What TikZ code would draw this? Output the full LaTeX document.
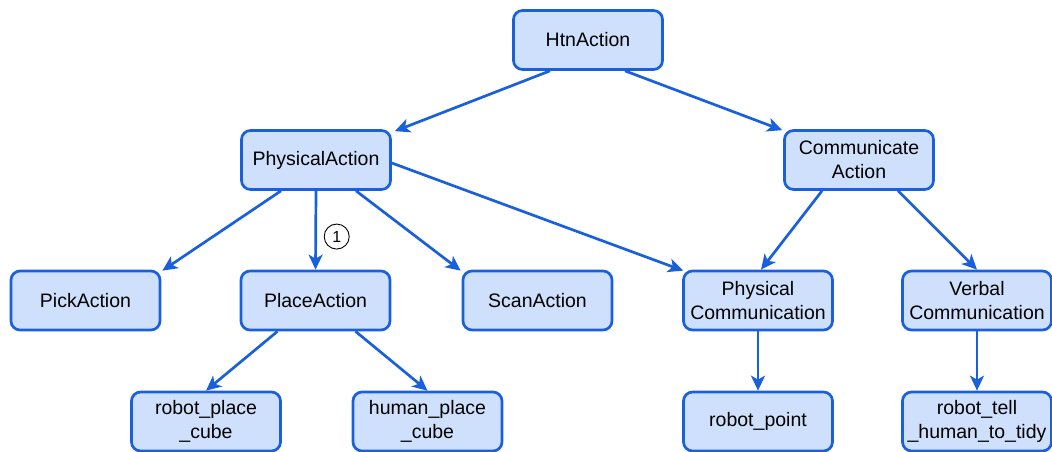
\documentclass[tikz,border=0pt]{standalone}
\usepackage{fontspec}
\setmainfont{Liberation Sans}
\usetikzlibrary{arrows.meta,calc}
\definecolor{boxfill}{HTML}{CFE0FC}
\definecolor{boxline}{HTML}{1A5FDC}
\begin{document}
\begin{tikzpicture}[x=1pt,y=-1pt,
  box/.style={draw=boxline,fill=boxfill,line width=2.7pt,rounded corners=9pt,
    minimum width=149pt,minimum height=59pt,inner sep=0pt,align=center,
    font=\fontsize{19.5}{24}\selectfont},
  conn/.style={draw=boxline,line width=2.7pt,-{Stealth[length=15pt,width=14pt,inset=4pt]}},
  lbl/.style={circle,draw=black,line width=0.9pt,minimum size=25pt,inner sep=0pt,font=\fontsize{16}{18}\selectfont}]
\useasboundingbox (0,0) rectangle (1052,452);
\node[box] (htn) at (588,40) {HtnAction};
\node[box] (phys) at (316,160) {PhysicalAction};
\node[box] (comm) at (859,160) {Communicate\\Action};
\node[box] (pick) at (85.5,300.5) {PickAction};
\node[box] (place) at (315.5,300.5) {PlaceAction};
\node[box] (scan) at (537.5,300.5) {ScanAction};
\node[box] (pcomm) at (758,300.5) {Physical\\Communication};
\node[box] (vcomm) at (977,300.5) {Verbal\\Communication};
\node[box] (rpc) at (206,421.5) {robot\_place\\\_cube};
\node[box] (hpc) at (427.5,421.5) {human\_place\\\_cube};
\node[box] (rpt) at (758,421.5) {robot\_point};
\node[box] (rtt) at (977,421.5) {robot\_tell\\\_human\_to\_tidy};
\draw[conn] ([xshift=-38pt]htn.south) -- ([xshift=3pt,yshift=-2pt]phys.north east);
\draw[conn] ([xshift=37pt]htn.south) -- ([xshift=-1pt,yshift=-1pt]comm.north west);
\draw[conn] ([xshift=-35pt]phys.south) -- ([xshift=1pt,yshift=-1pt]pick.north east);
\draw[conn] (phys.south) -- (place.north) node[lbl,pos=0.58,xshift=21pt] (one) {1};
\draw[conn] ([xshift=40pt]phys.south) -- ([xshift=-1pt,yshift=-1pt]scan.north west);
\draw[conn] ([yshift=-3pt]phys.east) -- ([xshift=1pt,yshift=-1pt]pcomm.north west);
\draw[conn] ([xshift=-37pt]comm.south) -- ([xshift=3pt]pcomm.north);
\draw[conn] ([xshift=39pt]comm.south) -- (vcomm.north);
\draw[conn] ([xshift=-38pt]place.south) -- (rpc.north);
\draw[conn] ([xshift=40pt]place.south) -- (hpc.north);
\draw[conn] (pcomm.south) -- (rpt.north);
\draw[conn] (vcomm.south) -- (rtt.north);
\end{tikzpicture}
\end{document}
